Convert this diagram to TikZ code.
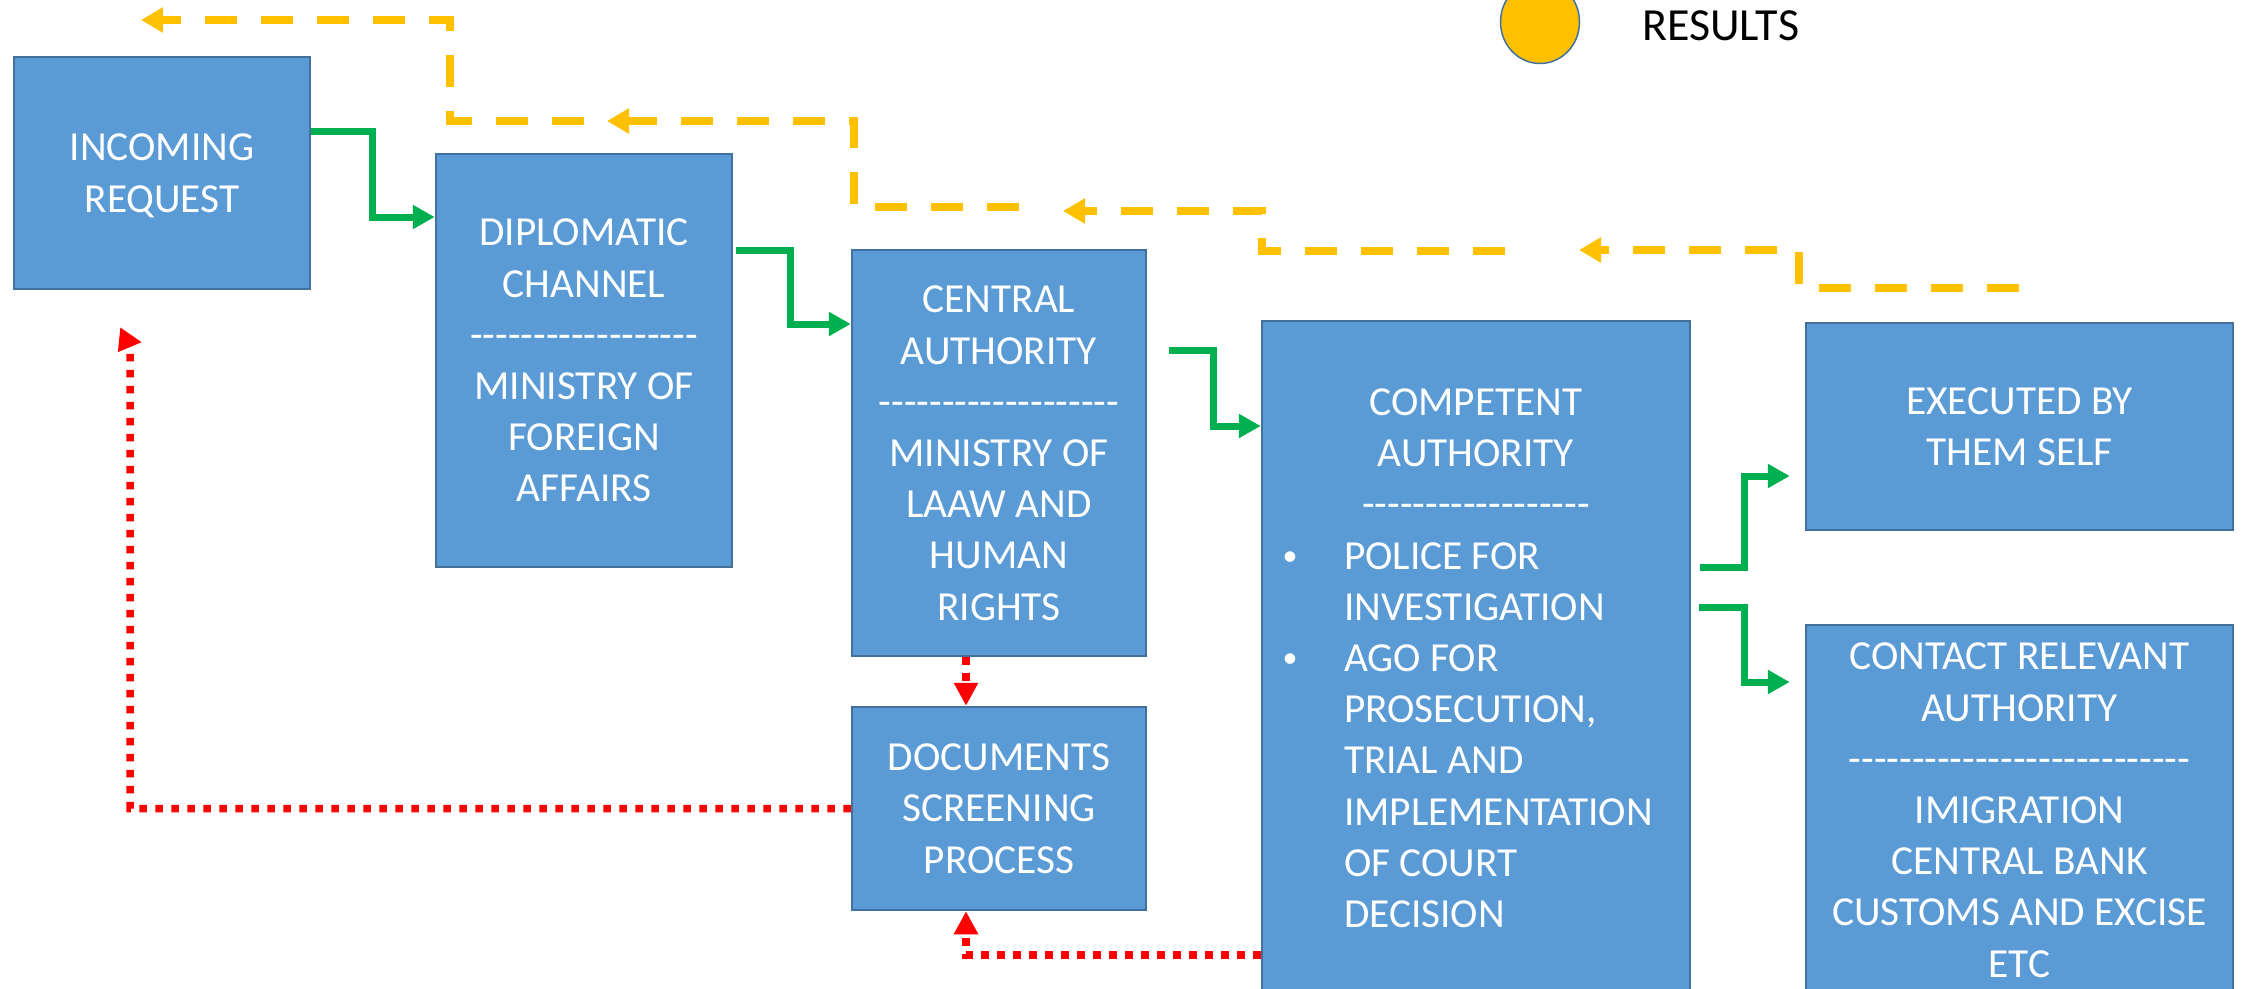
\documentclass[tikz,border=0pt]{standalone}
\usepackage{fontspec}
\setmainfont{Carlito}
\usetikzlibrary{arrows.meta,shapes.geometric}
\definecolor{boxfill}{HTML}{5B9BD5}
\definecolor{boxline}{HTML}{41719C}
\definecolor{grn}{HTML}{00B050}
\definecolor{ylw}{HTML}{FFC000}
\definecolor{rd}{HTML}{FF0000}
\newcount\hycnt
\newcommand\hyrow[1]{\hycnt=#1\relax\loop\ifnum\hycnt>0 \mbox{-}\advance\hycnt by -1\relax\repeat}
\newcommand\bitem[2]{\makebox[426pt][l]{\makebox[54pt]{#1}\hspace*{27pt}#2}}
\newcommand\bul{\raisebox{3.5pt}{\fontsize{30}{30}\selectfont •}}
\begin{document}
\begin{tikzpicture}[x=1pt,y=-1pt,
  box/.style={draw=boxline, line width=2.5pt, fill=boxfill, text=white, inner sep=0pt,
    align=center, text depth=0pt, font=\fontsize{41.3}{51.2}\selectfont},
  garrow/.style={draw=grn, line width=7pt, -{Triangle[length=22pt,width=23pt]}},
  yarrow/.style={draw=ylw, line width=8pt, dash pattern=on 32pt off 24pt,
    -{Triangle[length=22pt,width=24pt]}},
  rarrow/.style={draw=rd, line width=7.5pt, dash pattern=on 7.5pt off 8.5pt,
    -{Triangle[length=23pt,width=23pt]}},
]
\useasboundingbox (0,0) rectangle (2241,988);
\clip (0,0) rectangle (2241,988);

% boxes
\node[box, minimum width=296pt, minimum height=232pt] (inc) at (162,173) {INCOMING\\REQUEST};
\node[box, minimum width=296pt, minimum height=413pt] (dip) at (584,360.5)
  {DIPLOMATIC\\CHANNEL\\\hyrow{18}\\MINISTRY OF\\FOREIGN\\AFFAIRS};
\node[box, minimum width=294pt, minimum height=406pt] (cen) at (999,453)
  {CENTRAL\\AUTHORITY\\\hyrow{19}\\MINISTRY OF\\LAAW AND\\HUMAN\\RIGHTS};
\node[box, minimum width=294pt, minimum height=203pt] (doc) at (999,808.5)
  {DOCUMENTS\\SCREENING\\PROCESS};
\node[box, minimum width=428pt, minimum height=674pt] (comp) at (1476,658)
  {COMPETENT\\AUTHORITY\\\hyrow{18}\\
   \bitem{\bul}{POLICE FOR}\\\bitem{}{INVESTIGATION}\\
   \bitem{\bul}{AGO FOR}\\\bitem{}{PROSECUTION,}\\\bitem{}{TRIAL AND}\\
   \bitem{}{IMPLEMENTATION}\\\bitem{}{OF COURT}\\\bitem{}{DECISION}};
\node[box, minimum width=427pt, minimum height=207pt] (exe) at (2019.5,426.5)
  {EXECUTED BY\\THEM SELF};
\node[box, minimum width=427pt, minimum height=370pt] (con) at (2019.5,810)
  {CONTACT RELEVANT\\AUTHORITY\\\hyrow{27}\\IMIGRATION\\CENTRAL BANK\\CUSTOMS AND EXCISE\\ETC};

% legend
\node[ellipse, draw=boxline, line width=1.5pt, fill=ylw, minimum width=79pt,
  minimum height=83pt, inner sep=0pt] (legend) at (1540,22) {};
\node[anchor=base west, inner sep=0pt, font=\fontsize{46}{55}\selectfont] (res)
  at (1642,40) {RESULTS};

% green flow
\draw[garrow] (inc.east |- 0,131.5) -| (372,217) -- (dip.west |- 0,217);
\draw[garrow] ([xshift=3pt]dip.east |- 0,250) -| (790,324) -- (cen.west |- 0,324);
\draw[garrow] ([xshift=22pt]cen.east |- 0,350) -| (1213,426) -- (comp.west |- 0,426);
\draw[garrow] ([xshift=9pt]comp.east |- 0,567) -| (1744,476) -- ([xshift=-15pt]exe.west |- 0,476);
\draw[garrow] ([xshift=8pt]comp.east |- 0,607) -| (1744,682) -- ([xshift=-15pt]con.west |- 0,682);

% yellow results
\coordinate (ya0) at (2019,288); \coordinate (ya1) at (1579,250);
\coordinate (yb0) at (1505,251); \coordinate (yb1) at (1063,211);
\coordinate (yc0) at (1019,207); \coordinate (yc1) at (607,121);
\coordinate (yd0) at (584,121);  \coordinate (yd1) at (141,20);
\draw[yarrow] (ya0) -| (1799,250) -- (ya1);
\draw[yarrow] (yb0) -| (1262,211) -- (yb1);
\draw[yarrow] (yc0) -| (854,121) -- (yc1);
\draw[yarrow] (yd0) -| (450,20) -- (yd1);

% red screening
\draw[rarrow] (doc.west) -| (130,341) -- ([xshift=-20pt,yshift=-52pt]inc.south);
\draw[rarrow] ([xshift=-33pt]cen.south) -- ([xshift=-33pt]doc.north);
\draw[rarrow] (comp.west |- 0,955) -| ([xshift=-33pt]doc.south);
\end{tikzpicture}
\end{document}
